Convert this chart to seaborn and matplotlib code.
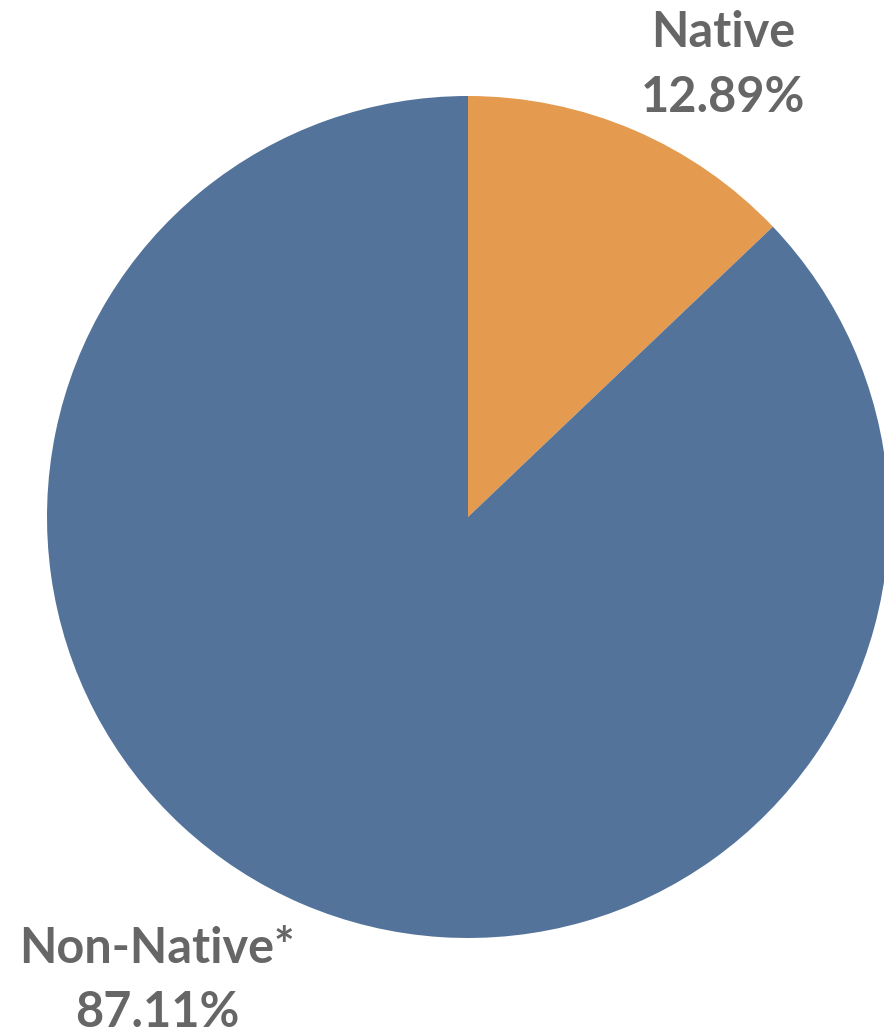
import matplotlib
matplotlib.use("Agg")
import matplotlib.pyplot as plt
import seaborn as sns

categories = ["Native", "Non-Native*"]
shares = [12.89, 87.11]
colors = ["#E49B4F", "#53739A"]

sns.set_theme(style="white")
plt.rcParams["font.family"] = ["Lato", "DejaVu Sans"]

fig = plt.figure(figsize=(8.84, 10.34), dpi=100)
ax = fig.add_axes([0, 0, 1, 1])
ax.set_xlim(0, 884)
ax.set_ylim(0, 1034)
ax.set_aspect("equal")
ax.axis("off")

ax.pie(shares, colors=colors, startangle=90, counterclock=False,
       center=(468, 517), radius=421,
       wedgeprops=dict(linewidth=0, edgecolor="none"), frame=True)
ax.set_xlim(0, 884)
ax.set_ylim(0, 1034)
ax.axis("off")

label_pos = [((723, 987), (723, 922)), ((157, 71), (157, 7))]
for cat, val, (p1, p2) in zip(categories, shares, label_pos):
    ax.text(p1[0], p1[1], cat, ha="center", va="baseline", fontsize=35,
            fontweight="bold", color="#666666")
    ax.text(p2[0], p2[1], f"{val:.2f}%", ha="center", va="baseline", fontsize=35,
            fontweight="bold", color="#666666")

fig.savefig("out.png", dpi=100, facecolor="white")
